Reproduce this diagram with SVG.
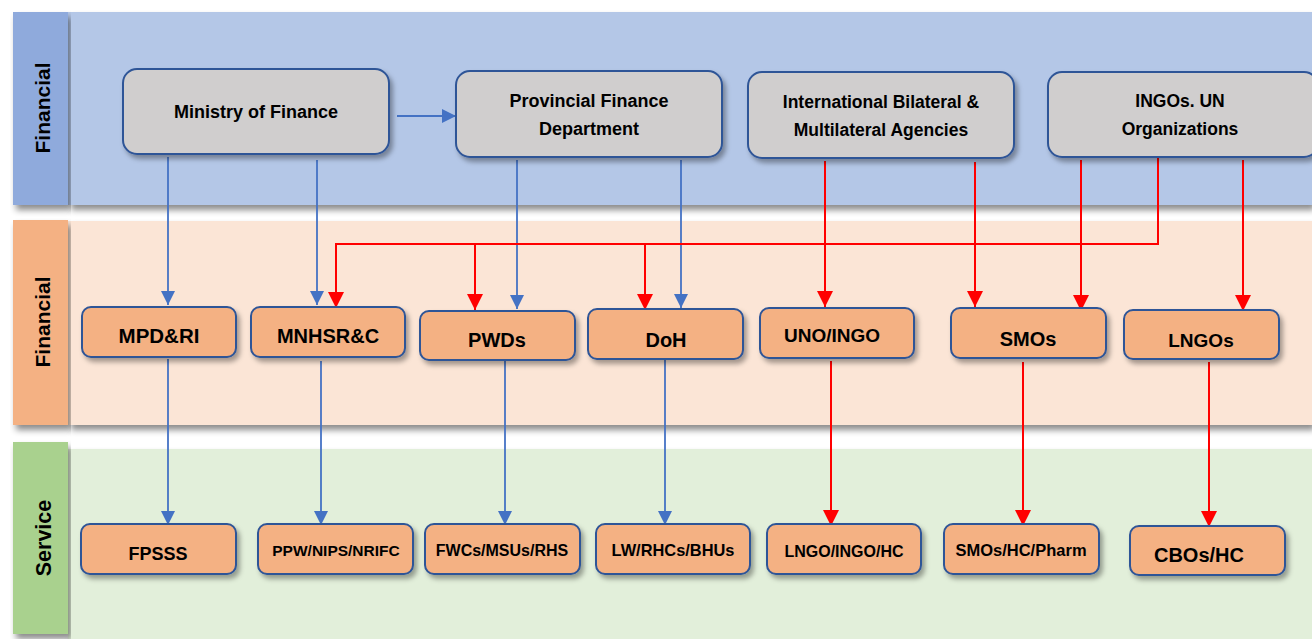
<svg xmlns="http://www.w3.org/2000/svg" width="1312" height="639" viewBox="0 0 1312 639">
<defs>
<filter id="lsh" x="-5%" y="-10%" width="110%" height="125%"><feDropShadow dx="3" dy="5" stdDeviation="3" flood-color="#000" flood-opacity="0.45"/></filter>
<filter id="nsh" x="-10%" y="-20%" width="125%" height="150%"><feDropShadow dx="3" dy="4" stdDeviation="2.5" flood-color="#000" flood-opacity="0.35"/></filter>
<marker id="ab" markerUnits="userSpaceOnUse" markerWidth="14" markerHeight="16" refX="14" refY="7" orient="auto"><path d="M0,0 L14,7 L0,14 Z" fill="#4472c4"/></marker>
<marker id="ar" markerUnits="userSpaceOnUse" markerWidth="16" markerHeight="16" refX="16" refY="8" orient="auto"><path d="M0,0 L16,8 L0,16 Z" fill="#ff0000"/></marker>
<style>
.t{font-family:"Liberation Sans",Arial,sans-serif;font-weight:bold;fill:#000;text-anchor:middle}
.top{fill:#d0cece;stroke:#2f5597;stroke-width:2}
.on{fill:#f4b183;stroke:#2f5597;stroke-width:2}
.b{stroke:#4472c4;stroke-width:1.8;fill:none;marker-end:url(#ab)}
.r{stroke:#ff0000;stroke-width:2;fill:none;marker-end:url(#ar)}
.rn{stroke:#ff0000;stroke-width:2;fill:none}
</style>
</defs>
<rect width="1312" height="639" fill="#ffffff"/>
<!-- lanes -->
<g id="lane1">
<rect x="68" y="12" width="1244" height="193" fill="#b4c7e7" filter="url(#lsh)"/>
<rect x="13" y="12" width="55" height="193" fill="#8faadc" filter="url(#lsh)"/>
<text class="t" transform="translate(50,108) rotate(-90)" font-size="21">Financial</text>
</g>
<g id="lane2">
<rect x="68" y="221" width="1244" height="204" fill="#fbe5d6" filter="url(#lsh)"/>
<rect x="13" y="220" width="55" height="205" fill="#f4b183" filter="url(#lsh)"/>
<text class="t" transform="translate(50,322) rotate(-90)" font-size="21">Financial</text>
</g>
<g id="lane3">
<rect x="68" y="449" width="1244" height="195" fill="#e2efda" filter="url(#lsh)"/>
<rect x="13" y="442" width="55" height="192" fill="#a9d18e" filter="url(#lsh)"/>
<text class="t" transform="translate(51,538) rotate(-90)" font-size="21.5">Service</text>
</g>
<!-- connectors -->
<g id="connectors">
<line class="b" x1="397" y1="116" x2="456" y2="116"/>
<line class="b" x1="168" y1="157" x2="168" y2="305"/>
<line class="b" x1="317" y1="160" x2="317" y2="305"/>
<line class="b" x1="517" y1="160" x2="517" y2="309"/>
<line class="b" x1="681" y1="160" x2="681" y2="308"/>
<line class="b" x1="168" y1="359" x2="168" y2="525"/>
<line class="b" x1="321" y1="361" x2="321" y2="525"/>
<line class="b" x1="505" y1="361" x2="505" y2="525"/>
<line class="b" x1="665" y1="358" x2="665" y2="525"/>
<polyline class="rn" points="1158,157 1158,244 335,244"/>
<line class="r" x1="336" y1="243" x2="336" y2="308"/>
<line class="r" x1="475" y1="244" x2="475" y2="310"/>
<line class="r" x1="645" y1="244" x2="645" y2="310"/>
<line class="r" x1="825" y1="161" x2="825" y2="307"/>
<line class="r" x1="975" y1="162" x2="975" y2="307"/>
<line class="r" x1="1081" y1="160" x2="1081" y2="311"/>
<line class="r" x1="1243" y1="160" x2="1243" y2="311"/>
<line class="r" x1="831" y1="361" x2="831" y2="526"/>
<line class="r" x1="1023" y1="362" x2="1023" y2="526"/>
<line class="r" x1="1209" y1="362" x2="1209" y2="527"/>
</g>
<!-- top nodes -->
<g id="mof"><rect class="top" x="123" y="69" width="266" height="85" rx="14" filter="url(#nsh)"/><text class="t" x="256" y="118" font-size="18">Ministry of Finance</text></g>
<g id="pfd"><rect class="top" x="456" y="71" width="266" height="86" rx="14" filter="url(#nsh)"/><text class="t" x="589" y="107" font-size="18">Provincial Finance</text><text class="t" x="589" y="135" font-size="18">Department</text></g>
<g id="ibma"><rect class="top" x="748" y="72" width="266" height="86" rx="14" filter="url(#nsh)"/><text class="t" x="881" y="108" font-size="17.5">International Bilateral &amp;</text><text class="t" x="881" y="136" font-size="17.5">Multilateral Agencies</text></g>
<g id="ingo"><rect class="top" x="1048" y="72" width="270" height="85" rx="14" filter="url(#nsh)"/><text class="t" x="1180" y="107" font-size="17.5">INGOs. UN</text><text class="t" x="1180" y="135" font-size="17.5">Organizations</text></g>
<!-- lane 2 nodes -->
<g id="mpdri"><rect class="on" x="82" y="307" width="154" height="50" rx="9" filter="url(#nsh)"/><text class="t" x="159" y="343" font-size="20.5">MPD&amp;RI</text></g>
<g id="mnhsrc"><rect class="on" x="251" y="307" width="154" height="50" rx="9" filter="url(#nsh)"/><text class="t" x="328" y="343" font-size="20">MNHSR&amp;C</text></g>
<g id="pwds"><rect class="on" x="420" y="311" width="155" height="49" rx="9" filter="url(#nsh)"/><text class="t" x="497" y="347" font-size="20">PWDs</text></g>
<g id="doh"><rect class="on" x="588" y="309" width="155" height="50" rx="9" filter="url(#nsh)"/><text class="t" x="666" y="347" font-size="20">DoH</text></g>
<g id="unoingo"><rect class="on" x="760" y="308" width="154" height="50" rx="9" filter="url(#nsh)"/><text class="t" x="832" y="342" font-size="19">UNO/INGO</text></g>
<g id="smos"><rect class="on" x="951" y="308" width="155" height="50" rx="9" filter="url(#nsh)"/><text class="t" x="1028" y="346" font-size="20">SMOs</text></g>
<g id="lngos"><rect class="on" x="1124" y="310" width="155" height="49" rx="9" filter="url(#nsh)"/><text class="t" x="1201" y="347" font-size="19">LNGOs</text></g>
<!-- lane 3 nodes -->
<g id="fpsss"><rect class="on" x="81" y="524" width="155" height="50" rx="9" filter="url(#nsh)"/><text class="t" x="158" y="560" font-size="18">FPSSS</text></g>
<g id="ppw"><rect class="on" x="258" y="524" width="155" height="50" rx="9" filter="url(#nsh)"/><text class="t" x="336" y="556" font-size="15.5">PPW/NIPS/NRIFC</text></g>
<g id="fwcs"><rect class="on" x="425" y="524" width="155" height="50" rx="9" filter="url(#nsh)"/><text class="t" x="502" y="556" font-size="16">FWCs/MSUs/RHS</text></g>
<g id="lw"><rect class="on" x="596" y="524" width="154" height="50" rx="9" filter="url(#nsh)"/><text class="t" x="673" y="556" font-size="16.4">LW/RHCs/BHUs</text></g>
<g id="lngoingo"><rect class="on" x="767" y="524" width="154" height="50" rx="9" filter="url(#nsh)"/><text class="t" x="844" y="557" font-size="16">LNGO/INGO/HC</text></g>
<g id="smoshc"><rect class="on" x="944" y="524" width="155" height="50" rx="9" filter="url(#nsh)"/><text class="t" x="1021" y="556" font-size="16.5">SMOs/HC/Pharm</text></g>
<g id="cbos"><rect class="on" x="1130" y="526" width="155" height="49" rx="9" filter="url(#nsh)"/><text class="t" x="1199" y="562" font-size="20">CBOs/HC</text></g>
</svg>
